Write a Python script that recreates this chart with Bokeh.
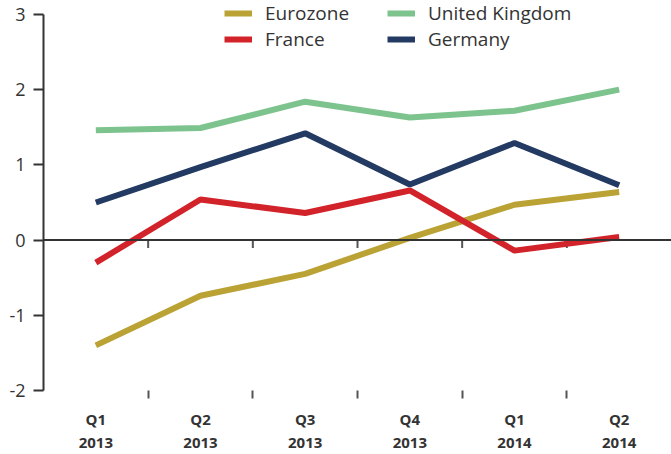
from bokeh.plotting import figure
from bokeh.models import (FixedTicker, Legend, LegendItem, Span, ColumnDataSource)
from bokeh.embed import file_html
from bokeh.resources import INLINE

quarters = ["Q1\n2013", "Q2\n2013", "Q3\n2013", "Q4\n2013", "Q1\n2014", "Q2\n2014"]
eurozone = [-1.40, -0.74, -0.45, 0.03, 0.47, 0.64]
united_kingdom = [1.46, 1.49, 1.84, 1.63, 1.72, 2.00]
france = [-0.30, 0.54, 0.36, 0.66, -0.14, 0.04]
germany = [0.50, 0.97, 1.42, 0.74, 1.29, 0.73]
y_ticks = [-2, -1, 0, 1, 2, 3]

colors = {"Eurozone": "#BBA235", "United Kingdom": "#7DC38D",
          "France": "#D2232A", "Germany": "#233A63"}

n = len(quarters)
xc = [i + 0.5 for i in range(n)]
bounds = list(range(1, n))

# frame spans 14px of headroom above the top tick so the legend is not clipped
ymin, ymax = y_ticks[0], y_ticks[-1]
headroom = 14 * (ymax - ymin) / 377

p = figure(width=671, height=454, x_range=(0, n), y_range=(ymin, ymax + headroom),
           output_backend="svg", toolbar_location=None,
           min_border_left=43, min_border_right=0, min_border_top=0, min_border_bottom=63)
p.outline_line_color = None
p.xgrid.visible = False
p.ygrid.visible = False
p.background_fill_color = "white"

FONT = "Open Sans"
TXT = "#333333"

# y axis
ya = p.yaxis[0]
ya.bounds = (ymin, ymax)
ya.ticker = FixedTicker(ticks=y_ticks, minor_ticks=[])
ya.major_label_overrides = {t: str(t) for t in y_ticks}
ya.axis_line_color = TXT
ya.axis_line_width = 2
ya.major_tick_line_color = TXT
ya.major_tick_line_width = 2
ya.major_tick_out = 10
ya.major_tick_in = 0
ya.major_label_standoff = 8
ya.major_label_text_font = FONT
ya.major_label_text_font_size = "18px"
ya.major_label_text_color = TXT

# x axis
xa = p.xaxis[0]
xa.ticker = FixedTicker(ticks=xc, minor_ticks=bounds)
xa.major_label_overrides = {x: q for x, q in zip(xc, quarters)}
xa.axis_line_color = None
xa.major_tick_line_color = None
xa.major_tick_out = 0
xa.major_tick_in = 0
xa.minor_tick_line_color = "#555555"
xa.minor_tick_line_width = 2
xa.minor_tick_out = 8
xa.minor_tick_in = 0
xa.major_label_standoff = 10
xa.major_label_text_font = FONT
xa.major_label_text_font_size = "15px"
xa.major_label_text_font_style = "bold"
xa.major_label_text_color = TXT
xa.major_label_text_line_height = 1.15

# zero line and its ticks
p.add_layout(Span(location=0, dimension="width", line_color=TXT, line_width=2))
p.segment(x0=bounds, x1=bounds, y0=[0] * len(bounds), y1=[-0.105] * len(bounds),
          line_color="#555555", line_width=2)

src = ColumnDataSource(dict(x=xc, ez=eurozone, uk=united_kingdom, fr=france, de=germany))
r_ez = p.line("x", "ez", source=src, line_color=colors["Eurozone"], line_width=6)
r_uk = p.line("x", "uk", source=src, line_color=colors["United Kingdom"], line_width=6)
r_de = p.line("x", "de", source=src, line_color=colors["Germany"], line_width=6)
r_fr = p.line("x", "fr", source=src, line_color=colors["France"], line_width=6)

def mk_legend(items, loc):
    lg = Legend(items=items, location=loc, orientation="vertical",
                padding=0, margin=0, spacing=0, border_line_color=None,
                background_fill_alpha=0, glyph_width=28, glyph_height=20,
                label_height=20, label_standoff=13,
                label_text_font=FONT, label_text_font_size="19px", label_text_color=TXT)
    return lg

lg1 = mk_legend([LegendItem(label="Eurozone", renderers=[r_ez]),
                 LegendItem(label="France", renderers=[r_fr])], (181, 338))
lg2 = mk_legend([LegendItem(label="United Kingdom", renderers=[r_uk]),
                 LegendItem(label="Germany", renderers=[r_de])], (344, 338))
p.add_layout(lg1)
p.add_layout(lg2)

open("out.html", "w").write(file_html(p, INLINE))
